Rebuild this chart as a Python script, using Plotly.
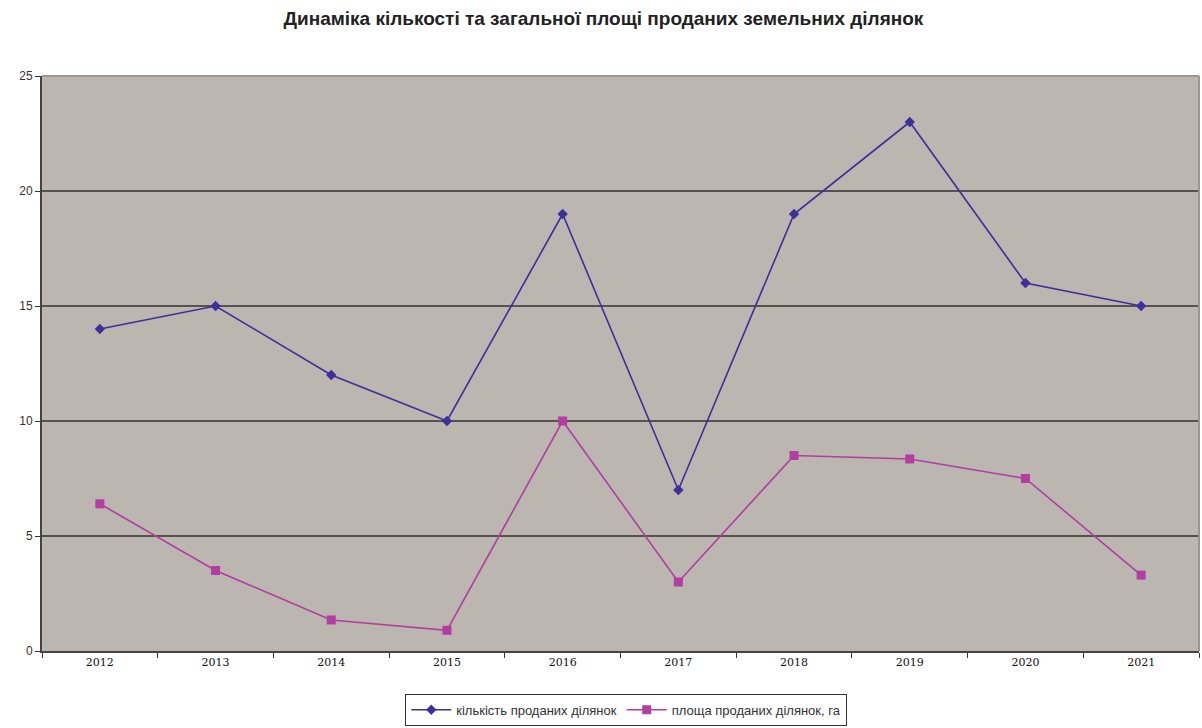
import plotly.graph_objects as go

years = ["2012", "2013", "2014", "2015", "2016", "2017", "2018", "2019", "2020", "2021"]
count_sold = [14, 15, 12, 10, 19, 7, 19, 23, 16, 15]
area_sold = [6.4, 3.5, 1.35, 0.9, 10, 3.0, 8.5, 8.35, 7.5, 3.3]

count_name = "кількість проданих ділянок"
area_name = "площа проданих ділянок, га"
title_text = "Динаміка кількості та загальної площі проданих земельних ділянок"

fig = go.Figure()
fig.add_trace(go.Scatter(
    x=years, y=count_sold, name=count_name, mode="lines+markers",
    line=dict(color="#3d2f9c", width=1.6),
    marker=dict(symbol="diamond", size=8, color="#3d2f9c"),
))
fig.add_trace(go.Scatter(
    x=years, y=area_sold, name=area_name, mode="lines+markers",
    line=dict(color="#b23ea3", width=1.6),
    marker=dict(symbol="square", size=9, color="#b23ea3"),
))

fig.update_layout(
    width=1202, height=728,
    margin=dict(l=42, r=3, t=76, b=77, autoexpand=False),
    paper_bgcolor="white",
    plot_bgcolor="#bbb6b0",
    title=dict(
        text="<b>" + title_text + "</b>",
        x=0.502, xanchor="center", y=0.975, yanchor="middle",
        font=dict(family="Liberation Sans, Arial", size=19, color="#222"),
    ),
    showlegend=True,
    legend=dict(
        orientation="h", x=0.505, xanchor="center",
        yref="container", y=0.003, yanchor="bottom",
        bgcolor="white", bordercolor="#333", borderwidth=1,
        font=dict(family="Liberation Sans, Arial", size=13, color="#333"),
        itemwidth=40, tracegroupgap=0,
    ),
    xaxis=dict(
        type="category", tickson="boundaries", ticks="outside", ticklen=5,
        tickcolor="#333", showline=True, linecolor="#444", linewidth=2,
        showgrid=False, range=[-0.5, 9.5],
        tickfont=dict(family="DejaVu Serif, serif", size=11, color="#111"),
    ),
    yaxis=dict(
        range=[0, 25], dtick=5, ticks="outside", ticklen=5, tickcolor="#333",
        showline=True, linecolor="#444", linewidth=2,
        showgrid=True, gridcolor="#56534f", gridwidth=2, zeroline=False,
        tickfont=dict(family="Liberation Sans, Arial", size=12, color="#333"),
    ),
    shapes=[
        dict(type="line", xref="paper", yref="paper", x0=0, x1=1, y0=1, y1=1,
             line=dict(color="#9a9590", width=2)),
        dict(type="line", xref="paper", yref="paper", x0=1, x1=1, y0=0, y1=1,
             line=dict(color="#9a9590", width=2)),
    ],
)

fig.write_html("out.html")
